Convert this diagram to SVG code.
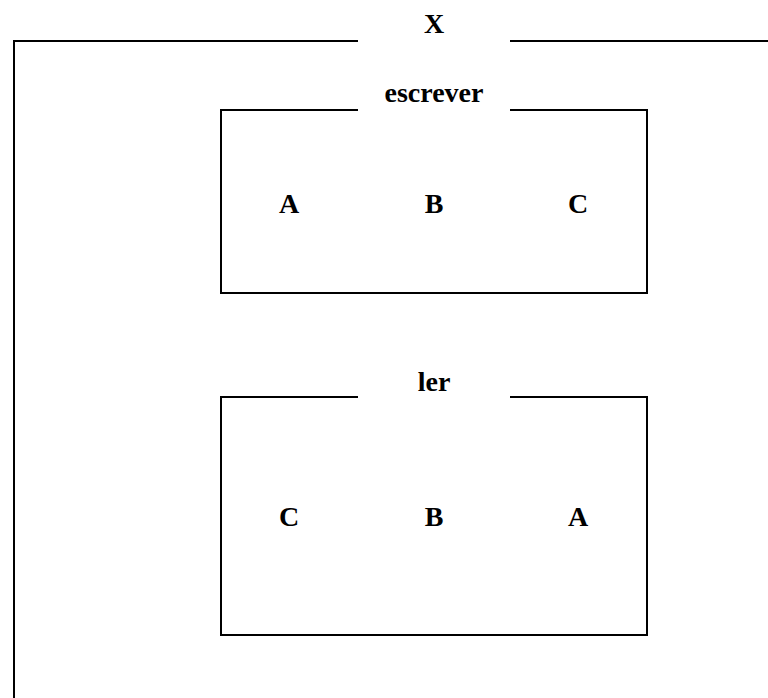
<svg xmlns="http://www.w3.org/2000/svg" width="768" height="698" viewBox="0 0 768 698">
  <style>
    .frame { fill: none; stroke: #000; stroke-width: 2; }
    .label { font-family: "Liberation Serif", "Times New Roman", serif; font-weight: bold; font-size: 28px; fill: #000; text-anchor: middle; }
  </style>
  <rect width="768" height="698" fill="#fff"/>

  <!-- outer frame X, titled in a gap of its top edge -->
  <g id="X">
    <path class="frame" d="M358,41 H14 V698 M510,41 H768"/>
    <text class="label" x="434" y="33">X</text>
  </g>

  <!-- write order -->
  <g id="escrever">
    <path class="frame" d="M358,110 H221 V293 H647 V110 H510"/>
    <text class="label" x="434" y="102">escrever</text>
    <text class="label" x="289" y="213">A</text>
    <text class="label" x="434" y="213">B</text>
    <text class="label" x="578" y="213">C</text>
  </g>

  <!-- read order -->
  <g id="ler">
    <path class="frame" d="M358,397 H221 V635 H647 V397 H510"/>
    <text class="label" x="434" y="391">ler</text>
    <text class="label" x="289" y="526">C</text>
    <text class="label" x="434" y="526">B</text>
    <text class="label" x="578" y="526">A</text>
  </g>

  <g id="connectors"/>
</svg>
